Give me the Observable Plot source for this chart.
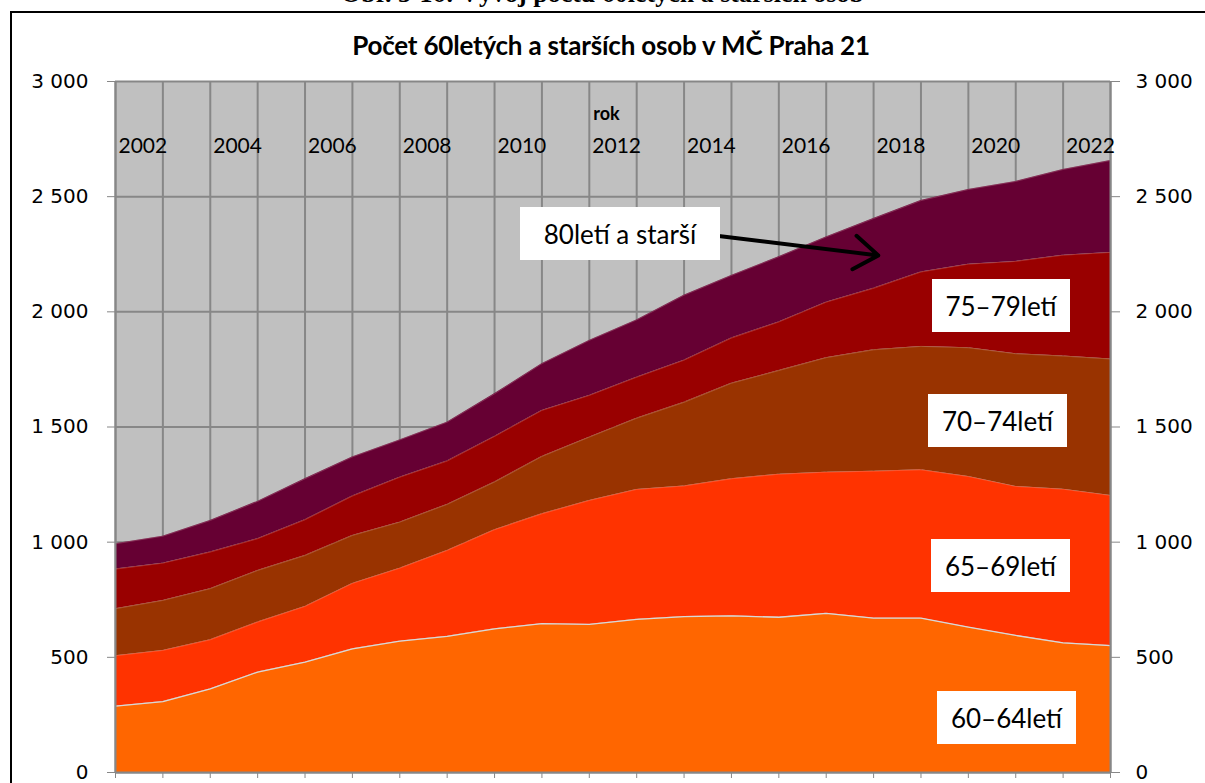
<!DOCTYPE html>
<html>
<head>
<meta charset="utf-8">
<script src="https://cdn.jsdelivr.net/npm/d3@7"></script>
<script src="https://cdn.jsdelivr.net/npm/@observablehq/plot@0.6"></script>
<style>
  html, body { margin: 0; padding: 0; background: #fff; }
  #page { position: relative; width: 1205px; height: 783px; overflow: hidden; background: #fff; }
  #page svg { position: absolute; left: 0; top: 0; }
  .ov { position: absolute; white-space: nowrap; }
  .caption { left: 0; width: 1205px; text-align: center; top: -21px; font: bold 26px "Liberation Serif", serif; }
  .frame { left: 10px; top: 11px; width: 1400px; height: 1000px; border: 2px solid #000; }
  .title { left: 0; width: 1222px; text-align: center; top: 29px; font: bold 26px Lato, sans-serif; letter-spacing: -0.2px; }
  .box { background: #fff; font: 26px Lato, sans-serif; display: flex; align-items: center; justify-content: center; }
</style>
</head>
<body>
<div id="page"></div>
<script>
// ---- data ----
const years = [2002, 2003, 2004, 2005, 2006, 2007, 2008, 2009, 2010, 2011, 2012,
               2013, 2014, 2015, 2016, 2017, 2018, 2019, 2020, 2021, 2022, 2023];
const labelYears = [2002, 2004, 2006, 2008, 2010, 2012, 2014, 2016, 2018, 2020, 2022];
const ageGroups = ["60–64letí", "65–69letí", "70–74letí", "75–79letí", "80letí a starší"];
const colors = ["#FF6600", "#FF3300", "#993300", "#990000", "#660033"];
const s60_64 = [288, 308, 363, 436, 479, 537, 570, 591, 624, 646, 643, 665, 677, 680, 674, 691, 670, 670, 631, 595, 563, 551];
const s65_69 = [219, 222, 213, 217, 242, 284, 317, 373, 430, 477, 538, 564, 567, 595, 621, 613, 638, 644, 654, 647, 667, 652];
const s70_74 = [204, 217, 222, 224, 221, 208, 200, 200, 207, 249, 275, 309, 363, 415, 450, 497, 527, 536, 559, 576, 578, 592];
const s75_79 = [172, 162, 159, 138, 155, 171, 195, 188, 198, 200, 181, 178, 183, 196, 211, 241, 267, 323, 363, 401, 438, 463];
const s80plus = [110, 117, 137, 162, 178, 170, 162, 169, 185, 203, 239, 249, 282, 272, 283, 283, 303, 310, 324, 347, 372, 399];
const yTicks = [0, 500, 1000, 1500, 2000, 2500, 3000];
// annotation arrow for the 80+ label (year, value)
const arrowAnno = [{x1: 2014.47, y1: 2336, x2: 2018.1, y2: 2245}];

const seriesList = [s60_64, s65_69, s70_74, s75_79, s80plus];
const rows = [];
seriesList.forEach((vals, i) => vals.forEach((v, j) => rows.push({year: years[j], age: ageGroups[i], value: v})));
const bottomRows = s60_64.map((v, j) => ({year: years[j], value: v}));

const fmt = d => d3.format(",")(d).replace(/,/g, " ");
const gridColor = "#878787";

const chart = Plot.plot({
  width: 1205,
  height: 783,
  marginLeft: 115,
  marginRight: 95,
  marginTop: 81,
  marginBottom: 11,
  style: {background: "transparent", fontFamily: "DejaVu Sans, sans-serif", fontSize: "20px", color: "#000"},
  x: {domain: [2002, 2023], axis: null},
  y: {domain: [0, 3000], axis: null},
  color: {domain: ageGroups, range: colors},
  marks: [
    Plot.frame({fill: "#C0C0C0", stroke: null}),
    Plot.gridX(years, {stroke: gridColor, strokeOpacity: 1, strokeWidth: 2}),
    Plot.gridY(yTicks, {stroke: gridColor, strokeOpacity: 1, strokeWidth: 2}),
    Plot.areaY(rows, Plot.stackY({x: "year", y: "value", z: "age", fill: "age", curve: "linear"})),
    Plot.lineY(rows, Plot.stackY2({x: "year", y: "value", z: "age", stroke: "#e8c0c0", strokeWidth: 0.7, strokeOpacity: 0.35})),
    Plot.lineY(bottomRows, {x: "year", y: "value", stroke: "#d8d8d8", strokeWidth: 1.3}),
    Plot.ruleX([2002, 2023], {stroke: gridColor, strokeWidth: 2}),
    Plot.ruleY([0], {stroke: gridColor, strokeWidth: 2}),
    Plot.axisY({anchor: "left", ticks: yTicks, tickFormat: fmt, tickSize: 8, tickPadding: 19, stroke: gridColor, fill: "#000", fontSize: 20}),
    Plot.axisY({anchor: "right", ticks: yTicks, tickFormat: fmt, tickSize: 9, tickPadding: 16, stroke: gridColor, fill: "#000", fontSize: 20}),
    Plot.axisX({anchor: "bottom", ticks: years, tickFormat: () => "", tickSize: 6, stroke: gridColor}),
    Plot.text(labelYears, {x: d => d, frameAnchor: "top", dy: 57, dx: 3, textAnchor: "start", text: d => String(d), fontFamily: "Lato, sans-serif", fontSize: 21, fill: "#000"}),
    Plot.text(["rok"], {x: () => 2012, frameAnchor: "top", dy: 26, dx: 4, textAnchor: "start", text: d => d, fontFamily: "Lato, sans-serif", fontSize: 18, fontWeight: "bold", fill: "#000"}),
    Plot.arrow(arrowAnno, {x1: "x1", y1: "y1", x2: "x2", y2: "y2", stroke: "#000", strokeWidth: 4, headLength: 11, headAngle: 70, bend: false})
  ]
});

const page = document.getElementById("page");
page.appendChild(chart);

function ov(cls, text, css) {
  const d = document.createElement("div");
  d.className = "ov " + cls;
  d.textContent = text;
  Object.assign(d.style, css || {});
  page.appendChild(d);
  return d;
}
ov("caption", "Obr. 5-16: Vývoj počtu 60letých a starších osob");
ov("frame", "");
ov("title", "Počet 60letých a starších osob v MČ Praha 21");
ov("box", "80letí a starší", {left: "520px", top: "207px", width: "200px", height: "53px"});
ov("box", "75–79letí", {left: "932px", top: "279px", width: "138px", height: "53px"});
ov("box", "70–74letí", {left: "928px", top: "394px", width: "139px", height: "53px"});
ov("box", "65–69letí", {left: "931px", top: "539px", width: "139px", height: "53px"});
ov("box", "60–64letí", {left: "937px", top: "691px", width: "139px", height: "53px"});
</script>
</body>
</html>
